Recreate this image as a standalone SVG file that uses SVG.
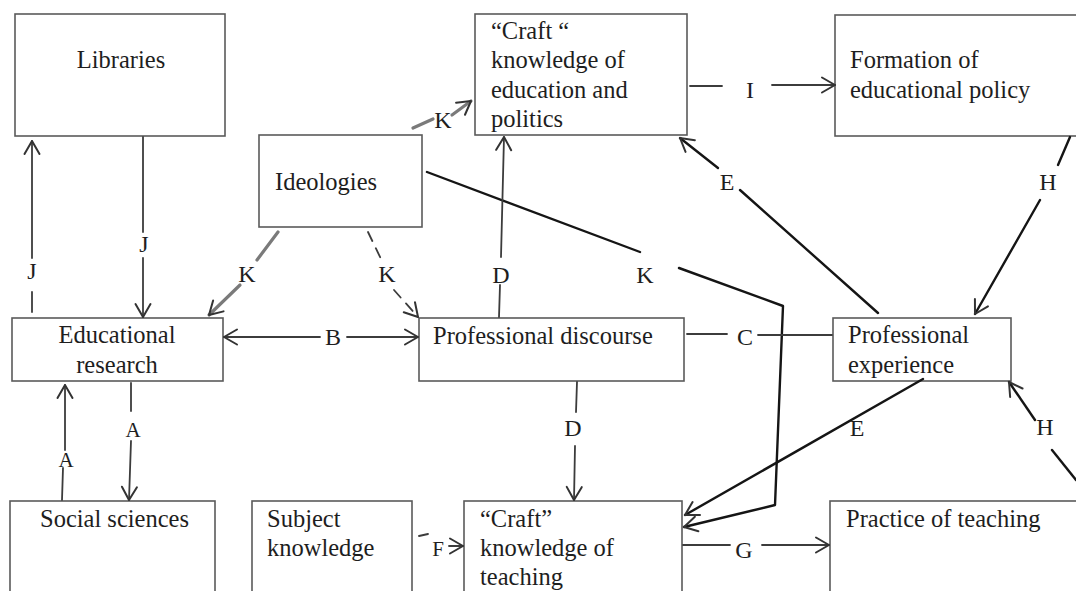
<svg xmlns="http://www.w3.org/2000/svg" width="1076" height="591" viewBox="0 0 1076 591">
<style>
.box{fill:#fff;stroke:#5a5a5a;stroke-width:1.6}
.t{font-family:"Liberation Serif","Times New Roman",serif;font-size:24.5px;fill:#1e1e1e}
.l{font-family:"Liberation Serif","Times New Roman",serif;font-size:24px;fill:#1e1e1e;text-anchor:middle}
.s{font-size:21px}
.ln{fill:none;stroke:#3c3c3c;stroke-width:1.8;stroke-linecap:round;stroke-linejoin:round}
.bk{stroke:#151515;stroke-width:2.4}
.gr{stroke:#7a7a7a;stroke-width:3.2}
.dash{stroke-dasharray:10 8}
.ah{marker-end:url(#ah)}
</style>
<defs>
<marker id="ah" viewBox="-15 -10 17 20" refX="0" refY="0" markerWidth="17" markerHeight="20" markerUnits="userSpaceOnUse" orient="auto">
<path d="M-13,-7.5 L0,0 L-13,7.5" fill="none" stroke="#333" stroke-width="2" stroke-linecap="round" stroke-linejoin="round"/>
</marker>
</defs>
<rect width="1076" height="591" fill="#fff"/>

<g id="libraries"><rect class="box" x="15" y="14" width="210" height="122"/><text class="t" x="121" y="68" text-anchor="middle">Libraries</text></g>
<g id="craft-politics"><rect class="box" x="475" y="14" width="212" height="121"/>
<text class="t" x="491" y="39">“Craft “</text><text class="t" x="491" y="68">knowledge of</text><text class="t" x="491" y="98">education and</text><text class="t" x="491" y="127">politics</text></g>
<g id="policy"><rect class="box" x="835" y="15" width="260" height="121"/><text class="t" x="850" y="68">Formation of</text><text class="t" x="850" y="98">educational policy</text></g>
<g id="ideologies"><rect class="box" x="259" y="135" width="163" height="92"/><text class="t" x="275" y="190">Ideologies</text></g>
<g id="research"><rect class="box" x="12" y="318" width="211" height="63"/><text class="t" x="117" y="343" text-anchor="middle">Educational</text><text class="t" x="117" y="373" text-anchor="middle">research</text></g>
<g id="discourse"><rect class="box" x="419" y="318" width="265" height="63"/><text class="t" x="433" y="344">Professional discourse</text></g>
<g id="experience"><rect class="box" x="833" y="318" width="178" height="63"/><text class="t" x="848" y="343">Professional</text><text class="t" x="848" y="373">experience</text></g>
<g id="social"><rect class="box" x="10" y="501" width="205" height="110"/><text class="t" x="40" y="527">Social sciences</text></g>
<g id="subject"><rect class="box" x="252" y="501" width="160" height="110"/><text class="t" x="267" y="527">Subject</text><text class="t" x="267" y="556">knowledge</text></g>
<g id="craft-teaching"><rect class="box" x="464" y="501" width="218" height="110"/><text class="t" x="480" y="527">“Craft”</text><text class="t" x="480" y="556">knowledge of</text><text class="t" x="480" y="585">teaching</text></g>
<g id="practice"><rect class="box" x="830" y="501" width="260" height="110"/><text class="t" x="846" y="527">Practice of teaching</text></g>

<g id="connectors">
<path class="ln" d="M32,312 L32,292"/><path class="ln ah" d="M32,258 L32,141"/>
<path class="ln" d="M143,137 L143,232"/><path class="ln ah" d="M143,258 L143,317"/>
<path class="ln gr" d="M278,232 L257,260"/><path class="ln gr ah" d="M240,285 L209,315"/>
<path class="ln dash" d="M368,232 L381,259"/><path class="ln dash ah" d="M394,290 L418,317"/>
<path class="ln gr" d="M413,128 L433,119"/><path class="ln gr ah" d="M452,115 L471,101"/>
<path class="ln bk" d="M427,172 L640,252"/><path class="ln bk ah" d="M679,268 L783,306 L775,505 L684,527"/>
<path class="ln" d="M499,317 L500,285"/><path class="ln ah" d="M501,257 L504,137"/>
<path class="ln" d="M577,382 L576,412"/><path class="ln ah" d="M575,446 L574,500"/>
<path class="ln ah" d="M320,337 L224,337"/><path class="ln ah" d="M347,337 L418,337"/>
<path class="ln" d="M687,334 L727,334"/><path class="ln" d="M758,335 L832,335"/>
<path class="ln" d="M690,86 L722,86"/><path class="ln ah" d="M772,85 L835,85"/>
<path class="ln bk" d="M878,313 L740,190"/><path class="ln bk ah" d="M718,168 L680,138"/>
<path class="ln bk ah" d="M923,379 L685,515"/>
<path class="ln" d="M419,536 L428,534"/><path class="ln ah" d="M449,546 L463,546"/>
<path class="ln" d="M683,545 L730,545"/><path class="ln ah" d="M762,545 L829,545"/>
<path class="ln bk" d="M1070,137 L1058,165"/><path class="ln bk ah" d="M1040,200 L975,314"/>
<path class="ln bk" d="M1076,480 L1052,450"/><path class="ln bk ah" d="M1035,420 L1009,382"/>
<path class="ln" d="M62,500 L63,468"/><path class="ln ah" d="M65,450 L65,385"/>
<path class="ln" d="M131,383 L131,411"/><path class="ln ah" d="M131,441 L129,500"/>
<text class="l" x="32" y="279">J</text>
<text class="l" x="144" y="252">J</text>
<text class="l" x="247" y="282">K</text>
<text class="l" x="387" y="282">K</text>
<text class="l" x="443" y="128">K</text>
<text class="l" x="645" y="283">K</text>
<text class="l" x="501" y="283">D</text>
<text class="l" x="573" y="436">D</text>
<text class="l" x="333" y="345">B</text>
<text class="l" x="745" y="345">C</text>
<text class="l" x="750" y="98">I</text>
<text class="l" x="727" y="190">E</text>
<text class="l" x="857" y="436">E</text>
<text class="l s" x="438" y="556">F</text>
<text class="l" x="744" y="558">G</text>
<text class="l" x="1048" y="190">H</text>
<text class="l" x="1045" y="435">H</text>
<text class="l s" x="66" y="467">A</text>
<text class="l s" x="133" y="437">A</text>
</g>
</svg>
